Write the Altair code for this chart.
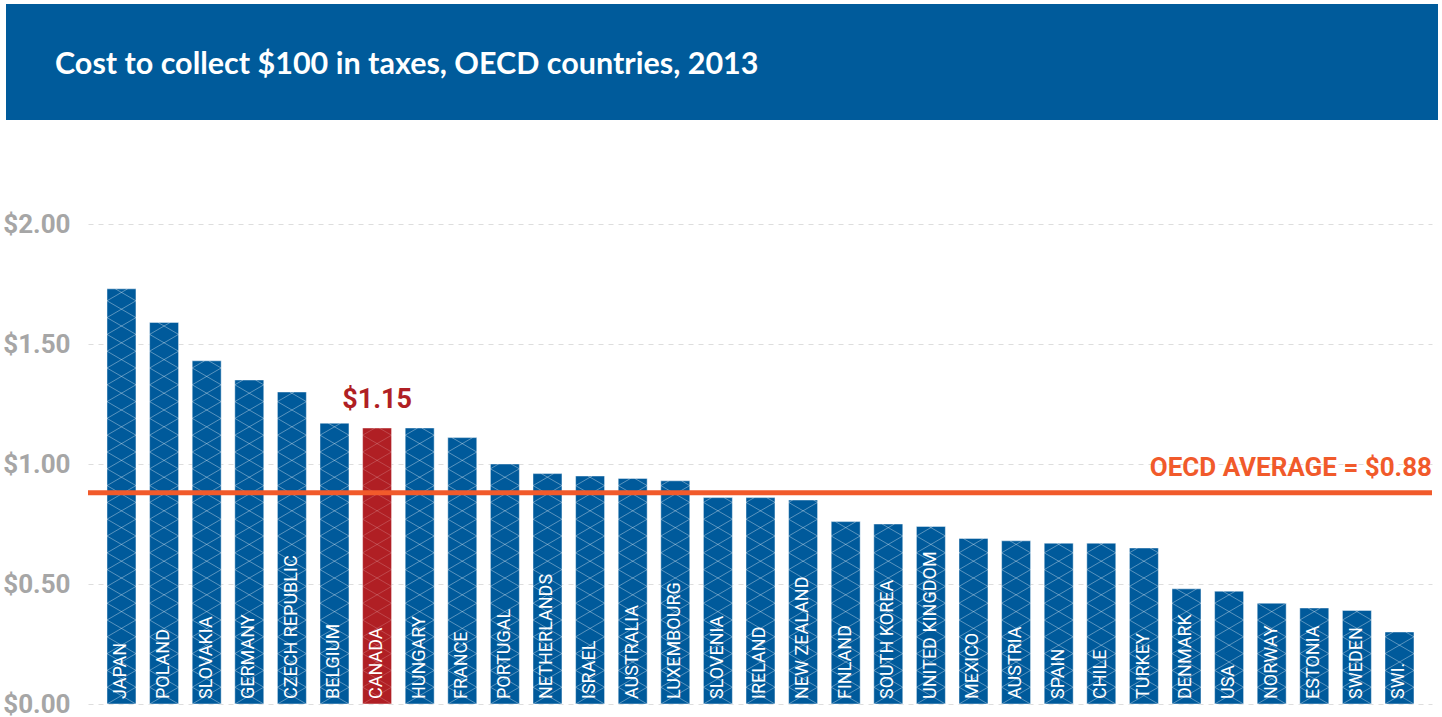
import altair as alt
import pandas as pd

title_text = "Cost to collect $100 in taxes, OECD countries, 2013"
countries = ["JAPAN", "POLAND", "SLOVAKIA", "GERMANY", "CZECH REPUBLIC", "BELGIUM",
             "CANADA", "HUNGARY", "FRANCE", "PORTUGAL", "NETHERLANDS", "ISRAEL",
             "AUSTRALIA", "LUXEMBOURG", "SLOVENIA", "IRELAND", "NEW ZEALAND", "FINLAND",
             "SOUTH KOREA", "UNITED KINGDOM", "MEXICO", "AUSTRIA", "SPAIN", "CHILE",
             "TURKEY", "DENMARK", "USA", "NORWAY", "ESTONIA", "SWEDEN", "SWI."]
costs = [1.73, 1.59, 1.43, 1.35, 1.30, 1.17, 1.15, 1.15, 1.11, 1.00, 0.96, 0.95,
         0.94, 0.93, 0.86, 0.86, 0.85, 0.76, 0.75, 0.74, 0.69, 0.68, 0.67, 0.67,
         0.65, 0.48, 0.47, 0.42, 0.40, 0.39, 0.30]
highlight = "CANADA"
highlight_label = "$1.15"
oecd_average = 0.88
average_label = "OECD AVERAGE = $0.88"
y_ticks = [0, 0.5, 1.0, 1.5, 2.0]

BLUE = "#005a9b"
RED = "#b01f24"
ORANGE = "#f15a2b"
HALF = 0.34

df = pd.DataFrame({"country": countries, "cost": costs, "idx": list(range(len(countries)))})
df["x0"] = df["idx"] - HALF
df["x1"] = df["idx"] + HALF
df["hl"] = df["country"] == highlight

# crosshatch pattern segments clipped at each bar's top
rows = []
h = 0.07
for i, (c, v) in enumerate(zip(countries, costs)):
    xl, xr = i - HALF, i + HALF
    k = 0
    while k * h < v:
        y0 = k * h
        y1 = y0 + h
        if y1 <= v:
            rows.append(dict(hx=xl, hy=y0, hx2=xr, hy2=y1, c=c))
            rows.append(dict(hx=xl, hy=y1, hx2=xr, hy2=y0, c=c))
        else:
            f = (v - y0) / h
            rows.append(dict(hx=xl, hy=y0, hx2=xl + f * (xr - xl), hy2=v, c=c))
            rows.append(dict(hx=xr - f * (xr - xl), hy=v, hx2=xr, hy2=y0, c=c))
        k += 1
hatch = pd.DataFrame(rows)

xscale = alt.Scale(domain=[-0.786, 30.763], nice=False, zero=False)
yscale = alt.Scale(domain=[0, 2], nice=False)

base = alt.Chart(df)

banner = alt.Chart(pd.DataFrame({"t": [title_text]})).mark_rect(color="#005b9b").encode(
    x=alt.value(-82), x2=alt.value(1350), y=alt.value(-220), y2=alt.value(-104)
)
title = alt.Chart(pd.DataFrame({"t": [title_text]})).mark_text(
    color="white", font="Lato", fontSize=30.5, fontWeight="bold", align="left", baseline="alphabetic"
).encode(x=alt.value(-33), y=alt.value(-150), text="t:N")

bars = base.mark_bar(stroke="white", strokeOpacity=0.45, strokeWidth=1).encode(
    x=alt.X("x0:Q", scale=xscale, axis=None),
    x2="x1:Q",
    y=alt.Y("cost:Q", scale=yscale, title=None,
            axis=alt.Axis(values=y_ticks, format="$.2f")),
    y2=alt.datum(0),
    color=alt.condition("datum.hl", alt.value(RED), alt.value(BLUE)),
)

hatch_layer = alt.Chart(hatch).mark_rule(strokeWidth=1, color="white").encode(
    x=alt.X("hx:Q", scale=xscale, axis=None),
    x2="hx2:Q",
    y=alt.Y("hy:Q", scale=yscale, title=None),
    y2="hy2:Q",
    opacity=alt.condition(alt.datum.c == highlight, alt.value(0.18), alt.value(0.35)),
)

labels = base.mark_text(
    color="white", font="Roboto", fontSize=18, angle=270, align="left", baseline="middle", dx=5
).encode(
    x=alt.X("idx:Q", scale=xscale, axis=None),
    y=alt.datum(0),
    text="country:N",
)

avg_rule = alt.Chart(pd.DataFrame({"a": [oecd_average]})).mark_rule(color=ORANGE, strokeWidth=5).encode(
    y=alt.Y("a:Q", scale=yscale, title=None)
)
avg_text = alt.Chart(pd.DataFrame({"a": [oecd_average], "t": [average_label]})).mark_text(
    color=ORANGE, font="Roboto", fontWeight="bold", fontSize=26, align="right",
    baseline="alphabetic", dy=-17
).encode(x=alt.value(1344), y=alt.Y("a:Q", scale=yscale, title=None), text="t:N")

hl_text = base.transform_filter(alt.datum.hl).mark_text(
    color=RED, font="Roboto", fontWeight="bold", fontSize=27, align="center",
    baseline="alphabetic", dy=-20
).encode(
    x=alt.X("idx:Q", scale=xscale, axis=None),
    y=alt.Y("cost:Q", scale=yscale, title=None),
    text=alt.value(highlight_label),
)

chart = alt.layer(banner, title, bars, hatch_layer, labels, avg_rule, avg_text, hl_text).properties(
    width=1344, height=480,
    padding={"left": 88, "top": 224, "right": 10, "bottom": 13},
    autosize=alt.AutoSizeParams(type="none"),
).configure_view(stroke=None).configure_axisY(
    domain=False, ticks=False, labelPadding=18, labelFont="Roboto", labelFontWeight="bold",
    labelFontSize=26, labelColor="#a6a6a6", gridColor="#dddddd", gridDash=[5, 5],
    gridWidth=1, title=None,
)

chart.save("out.html", embed_options={"renderer": "svg", "actions": False})
